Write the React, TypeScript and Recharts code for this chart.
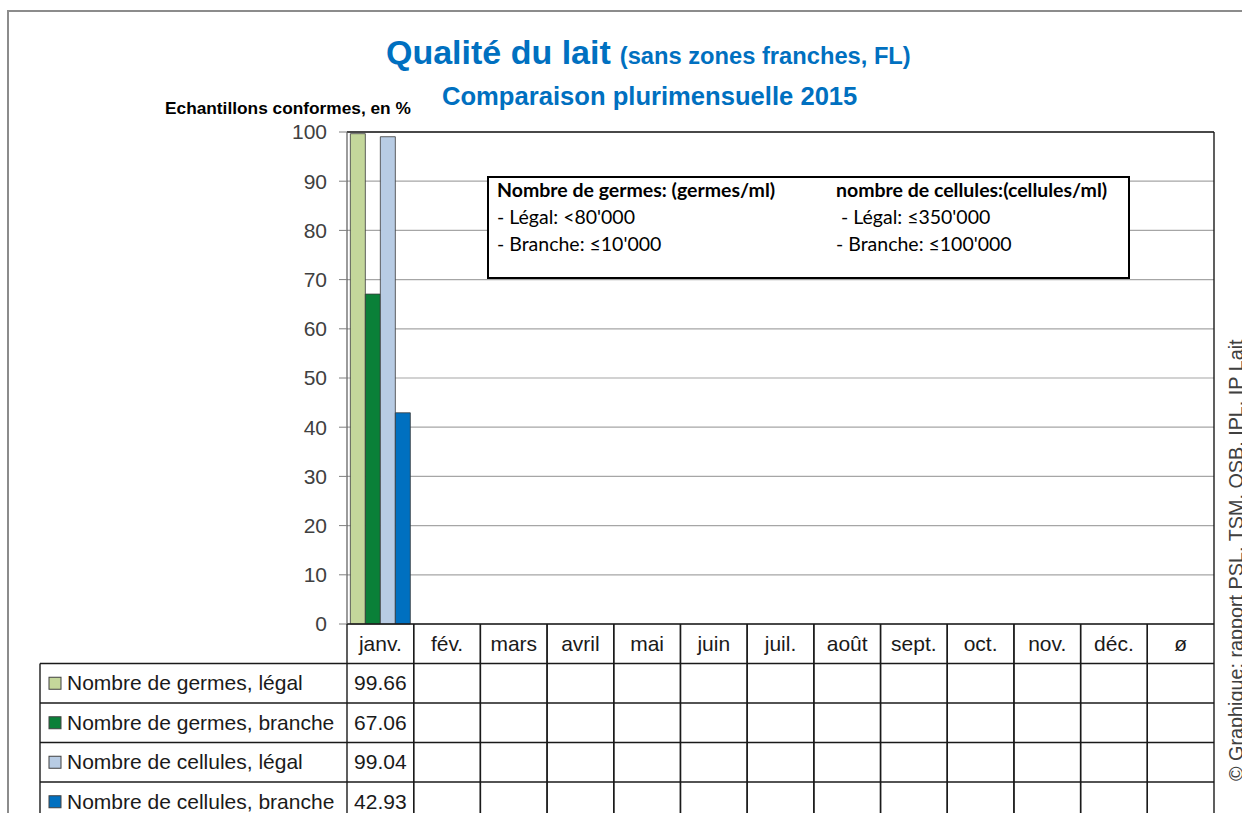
import { BarChart, Bar, XAxis, YAxis, CartesianGrid, ReferenceLine } from 'recharts';

const MONTHS = ['janv.', 'fév.', 'mars', 'avril', 'mai', 'juin', 'juil.', 'août', 'sept.', 'oct.', 'nov.', 'déc.', 'ø'];

const GERMES_LEGAL   = [99.66, null, null, null, null, null, null, null, null, null, null, null, null];
const GERMES_BRANCHE = [67.06, null, null, null, null, null, null, null, null, null, null, null, null];
const CELL_LEGAL     = [99.04, null, null, null, null, null, null, null, null, null, null, null, null];
const CELL_BRANCHE   = [42.93, null, null, null, null, null, null, null, null, null, null, null, null];

const Y_TICKS = [0, 10, 20, 30, 40, 50, 60, 70, 80, 90, 100];

const SERIES = [
  { key: 'germesLegal',   name: 'Nombre de germes, légal',    color: '#c4d79b', values: GERMES_LEGAL },
  { key: 'germesBranche', name: 'Nombre de germes, branche',  color: '#0a8038', values: GERMES_BRANCHE },
  { key: 'cellLegal',     name: 'Nombre de cellules, légal',  color: '#b8cce4', values: CELL_LEGAL },
  { key: 'cellBranche',   name: 'Nombre de cellules, branche', color: '#0070c0', values: CELL_BRANCHE },
];

const data = MONTHS.map((month, i) => {
  const row: Record<string, string | number | null> = { month };
  SERIES.forEach((s) => { row[s.key] = s.values[i]; });
  return row;
});

const NARROW = "'Liberation Sans Narrow', 'Arial Narrow', 'Liberation Sans', Arial, sans-serif";
const BOX_FONT = "Lato, 'Open Sans', 'Liberation Sans', sans-serif";
const BLUE = '#0070c0';

// layout of the plot (px)
const W = 1242;
const H = 813;
const PLOT_LEFT = 347;
const PLOT_RIGHT = 1214;
const PLOT_TOP = 132;
const PLOT_BOTTOM = 624;
const BAND = (PLOT_RIGHT - PLOT_LEFT) / MONTHS.length;
const ROW_H = 39.5;
const LABEL_LEFT = 40;

// x-axis tick = one column of the data table
function TableColumn(props: any) {
  const { x, y, payload, index } = props;
  const left = x - BAND / 2;
  const right = x + BAND / 2;
  const bottom = y + ROW_H * 5;
  const line = { stroke: '#1a1a1a', strokeWidth: 1.4 };
  return (
    <g>
      <line x1={left} y1={y} x2={left} y2={bottom} {...line} />
      <line x1={right} y1={y} x2={right} y2={bottom} {...line} />
      {[1, 2, 3, 4].map((k) => (
        <line key={k} x1={left} y1={y + ROW_H * k} x2={right} y2={y + ROW_H * k} {...line} />
      ))}
      <text x={x} y={y + ROW_H / 2 + 7} textAnchor="middle" fontSize={21} fill="#1a1a1a" fontFamily={NARROW}>
        {payload.value}
      </text>
      {SERIES.map((s, k) => {
        const v = s.values[index];
        return v == null ? null : (
          <text key={s.key} x={x} y={y + ROW_H * (k + 1.5) + 7} textAnchor="middle" fontSize={21} fill="#1a1a1a" fontFamily={NARROW}>
            {v.toFixed(2)}
          </text>
        );
      })}
      {index === 0 && (
        <g>
          {SERIES.map((s, k) => {
            const top = y + ROW_H * (k + 1);
            return (
              <g key={s.key}>
                <line x1={LABEL_LEFT} y1={top} x2={left} y2={top} {...line} />
                <rect x={LABEL_LEFT + 9} y={top + ROW_H / 2 - 6} width={12} height={12} fill={s.color} stroke="#404040" strokeWidth={1} />
                <text x={LABEL_LEFT + 27} y={top + ROW_H / 2 + 7} fontSize={21} fill="#1a1a1a" fontFamily={NARROW}>
                  {s.name}
                </text>
              </g>
            );
          })}
          <line x1={LABEL_LEFT} y1={y + ROW_H} x2={LABEL_LEFT} y2={bottom} {...line} />
        </g>
      )}
    </g>
  );
}

export default function App() {
  return (
    <div style={{ position: 'absolute', left: 0, top: 0, width: W, height: H, overflow: 'hidden', background: '#fff' }}>
      {/* outer frame */}
      <div style={{ position: 'absolute', left: 7, top: 10, width: W, height: H, borderLeft: '2px solid #8c8c8c', borderTop: '2px solid #8c8c8c' }} />

      <BarChart
        width={W}
        height={H}
        data={data}
        margin={{ top: PLOT_TOP, right: W - PLOT_RIGHT - 1, bottom: 0, left: PLOT_LEFT - 60 }}
        barCategoryGap="5%"
        barGap={0}
        style={{ position: 'absolute', left: 0, top: 0 }}
      >
        <CartesianGrid vertical={false} stroke="#a6a6a6" strokeWidth={1.2} yAxisId="left" />
        <XAxis
          dataKey="month"
          height={H - PLOT_BOTTOM}
          interval={0}
          tickLine={false}
          tickSize={0}
          tickMargin={0}
          axisLine={{ stroke: '#1a1a1a', strokeWidth: 1.4 }}
          tick={<TableColumn />}
        />
        <YAxis
          yAxisId="left"
          width={60}
          domain={[0, 100]}
          ticks={Y_TICKS}
          interval={0}
          tickSize={8}
          tickMargin={12}
          tick={{ fontSize: 21, fill: '#404040', fontFamily: NARROW }}
          tickLine={{ stroke: '#7f7f7f' }}
          axisLine={{ stroke: '#595959', strokeWidth: 1.2 }}
        />
        <YAxis yAxisId="right" orientation="right" width={1} tick={false} tickLine={false} axisLine={{ stroke: '#1a1a1a', strokeWidth: 1.4 }} />
        <ReferenceLine yAxisId="left" y={100} stroke="#1a1a1a" strokeWidth={1.4} />
        {SERIES.map((s) => (
          <Bar key={s.key} yAxisId="left" dataKey={s.key} name={s.name} fill={s.color} stroke="#3a3a3a" strokeWidth={0.8} isAnimationActive={false} />
        ))}
      </BarChart>

      {/* titles */}
      <div style={{ position: 'absolute', left: 386, top: 33, whiteSpace: 'nowrap', color: BLUE, fontFamily: NARROW, fontWeight: 'bold' }}>
        <span style={{ fontSize: 34 }}>Qualité du lait</span>
        <span style={{ fontSize: 23.7, marginLeft: 9 }}>(sans zones franches, FL)</span>
      </div>
      <div style={{ position: 'absolute', left: 442, top: 82, whiteSpace: 'nowrap', color: BLUE, fontFamily: NARROW, fontWeight: 'bold', fontSize: 25.6 }}>
        Comparaison plurimensuelle 2015
      </div>
      <div style={{ position: 'absolute', left: 165, top: 98, whiteSpace: 'nowrap', color: '#000', fontFamily: NARROW, fontWeight: 'bold', fontSize: 17.3 }}>
        Echantillons conformes, en %
      </div>

      {/* thresholds box */}
      <div style={{ position: 'absolute', left: 487, top: 176, width: 639, height: 99, border: '2px solid #000', background: '#fff', fontFamily: BOX_FONT, fontSize: 19.5, color: '#000', lineHeight: '27px' }}>
        <div style={{ position: 'absolute', left: 8, top: -2 }}>
          <div style={{ fontWeight: 'bold' }}>Nombre de germes: (germes/ml)</div>
          <div>- Légal: &lt;80'000</div>
          <div>- Branche: ≤10'000</div>
        </div>
        <div style={{ position: 'absolute', left: 347, top: -2 }}>
          <div style={{ fontWeight: 'bold' }}>nombre de cellules:(cellules/ml)</div>
          <div>&nbsp;- Légal: ≤350'000</div>
          <div>- Branche: ≤100'000</div>
        </div>
      </div>

      {/* source, rotated */}
      <div style={{ position: 'absolute', left: 1225, top: 781, transform: 'rotate(-90deg)', transformOrigin: '0 0', whiteSpace: 'nowrap', fontFamily: "'Liberation Sans', Arial, sans-serif", fontSize: 19.8, color: '#404040', lineHeight: '22px' }}>
        © Graphique: rapport PSL, TSM, OSB, IPL, IP Lait
      </div>
    </div>
  );
}
